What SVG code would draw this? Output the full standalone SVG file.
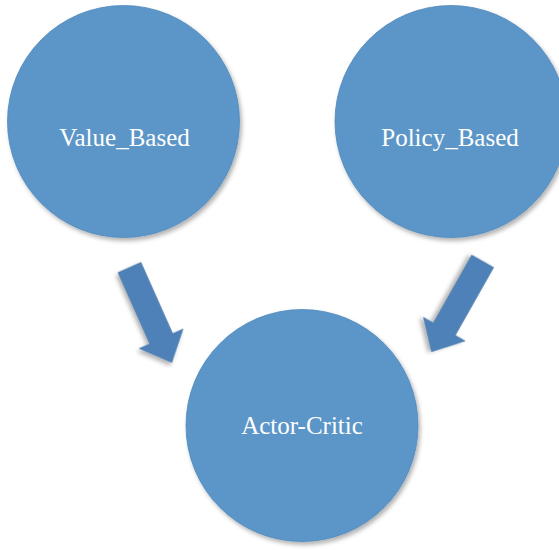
<svg xmlns="http://www.w3.org/2000/svg" xmlns:xlink="http://www.w3.org/1999/xlink" width="559" height="550" viewBox="0 0 559 550">
  <style>
    .node { fill: #5B96C8; stroke: #5089BC; stroke-width: 0.8; filter: url(#shadow); }
    .label { font-family: "Liberation Serif", "Times New Roman", serif; font-size: 25px; fill: #FFFFFF; text-anchor: middle; }
    .arrow { fill: #4F81B9; stroke: #44739F; stroke-width: 0.6; filter: url(#shadow); }
  </style>
  <defs>
    <filter id="shadow" x="-20%" y="-20%" width="140%" height="140%">
      <feDropShadow dx="2" dy="3" stdDeviation="2.2" flood-color="#000000" flood-opacity="0.3"/>
    </filter>
    <!-- block arrow pointing along +x, tail at origin -->
    <path id="blockArrow" d="M0,-12.5 L78,-12.5 L78,-24 L104,0 L78,24 L78,12.5 L0,12.5 Z"/>
  </defs>
  <rect width="559" height="550" fill="#FFFFFF"/>

  <g id="connectors">
    <use xlink:href="#blockArrow" class="arrow" transform="translate(129.5,267.5) rotate(66)"/>
    <use xlink:href="#blockArrow" class="arrow" transform="translate(482.7,261.3) rotate(119.5)"/>
  </g>

  <g id="value-based">
    <circle class="node" cx="123.5" cy="121.5" r="116"/>
    <text class="label" x="124.5" y="146">Value_Based</text>
  </g>

  <g id="policy-based">
    <circle class="node" cx="451" cy="121.5" r="116"/>
    <text class="label" x="450" y="146">Policy_Based</text>
  </g>

  <g id="actor-critic">
    <circle class="node" cx="302" cy="425.5" r="116"/>
    <text class="label" x="302" y="434">Actor-Critic</text>
  </g>
</svg>
